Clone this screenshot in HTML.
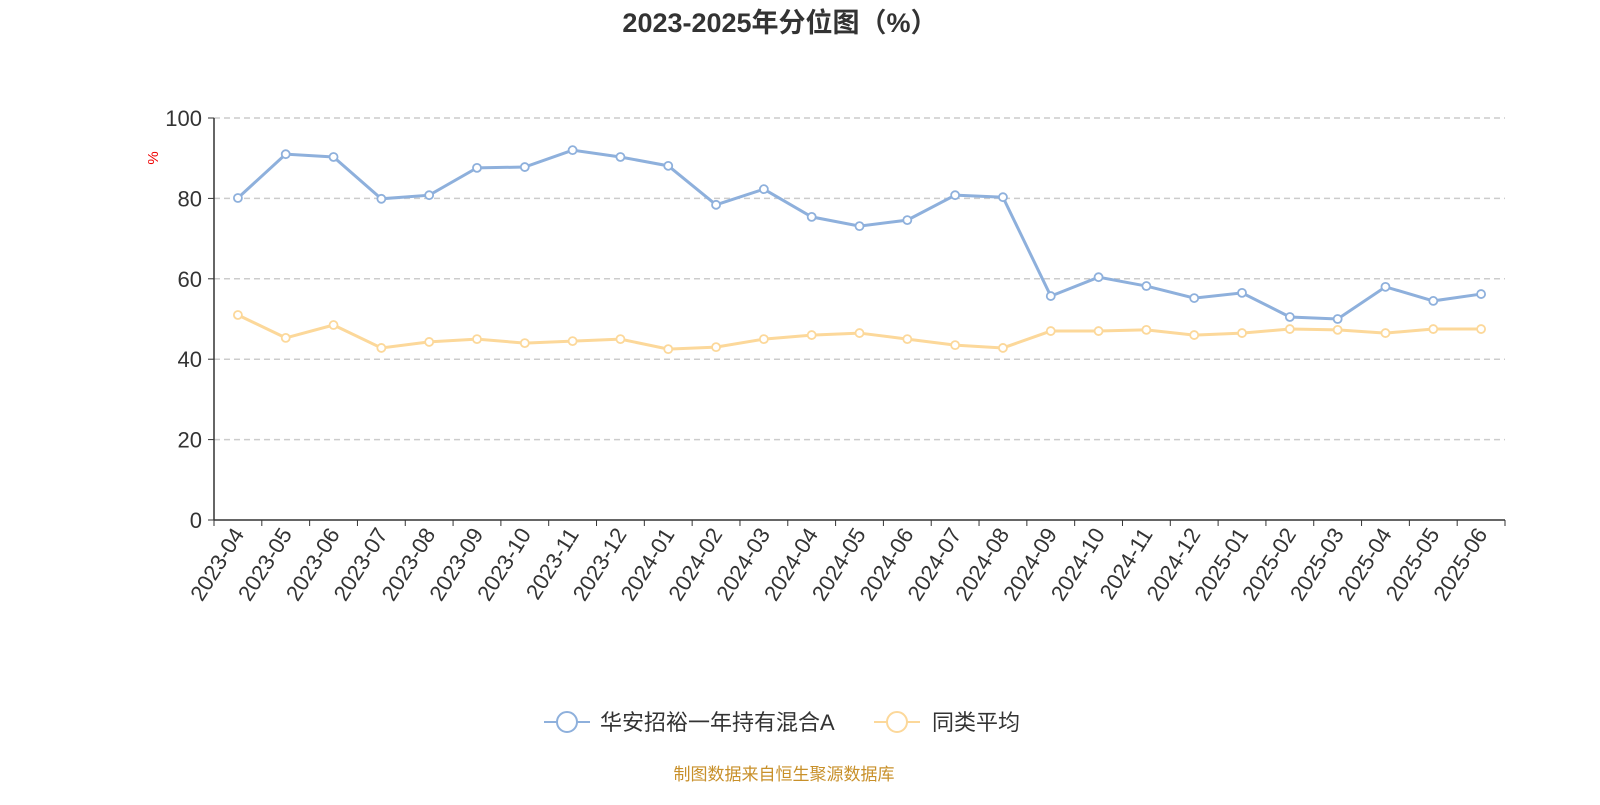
<!DOCTYPE html>
<html><head><meta charset="utf-8"><style>
body{margin:0;background:#fff;}
svg text{font-family:"Liberation Sans","Noto Sans CJK SC",sans-serif;}
</style></head><body>
<svg id="chart" width="1600" height="800" viewBox="0 0 1600 800" xmlns="http://www.w3.org/2000/svg">
<text x="780" y="32" text-anchor="middle" font-size="27" font-weight="bold" fill="#333">2023-2025年分位图（%）</text>
<text transform="translate(158,158) rotate(-90)" text-anchor="middle" font-size="15" fill="#e00">%</text>
<g id="grid"></g><g id="axes"></g><g id="series"></g>
<g>
<g>
<line x1="544" y1="722" x2="590" y2="722" stroke="#8eb0dc" stroke-width="2"/><circle cx="567" cy="722" r="10" fill="#fff" stroke="#8eb0dc" stroke-width="2"/>
<text x="600" y="730" font-size="22" fill="#333">华安招裕一年持有混合A</text></g>
<g>
<line x1="874" y1="722" x2="920" y2="722" stroke="#fcd89a" stroke-width="2"/><circle cx="897" cy="722" r="10" fill="#fff" stroke="#fcd89a" stroke-width="2"/>
<text x="932" y="730" font-size="22" fill="#333">同类平均</text></g>
</g>
<text x="784" y="780" text-anchor="middle" font-size="17" fill="#c8902a">制图数据来自恒生聚源数据库</text>
</svg>
<script>
const categories=["2023-04","2023-05","2023-06","2023-07","2023-08","2023-09","2023-10","2023-11","2023-12","2024-01","2024-02","2024-03","2024-04","2024-05","2024-06","2024-07","2024-08","2024-09","2024-10","2024-11","2024-12","2025-01","2025-02","2025-03","2025-04","2025-05","2025-06"];
const fundValues=[80.1,91.0,90.3,79.9,80.8,87.6,87.8,92.0,90.3,88.1,78.4,82.3,75.4,73.1,74.6,80.8,80.3,55.7,60.4,58.2,55.2,56.5,50.5,50.0,58.0,54.5,56.2];
const avgValues=[51.0,45.3,48.5,42.8,44.3,45.0,44.0,44.5,45.0,42.5,43.0,45.0,46.0,46.5,45.0,43.5,42.8,47.0,47.0,47.3,46.0,46.5,47.5,47.3,46.5,47.5,47.5];
const yTicks=[0,20,40,60,80,100];
const NS="http://www.w3.org/2000/svg";
const x0=214,x1=1505,yTop=118,yBot=520;
const step=(x1-x0)/categories.length;
const xs=i=>x0+step*(i+0.5);
const ys=v=>yBot-(v/100)*(yBot-yTop);
function mk(t,a,p){const e=document.createElementNS(NS,t);for(const k in a)e.setAttribute(k,a[k]);p.appendChild(e);return e;}
const grid=document.getElementById('grid'),axes=document.getElementById('axes'),ser=document.getElementById('series');
yTicks.forEach(v=>{
 if(v>0){const l=mk('line',{x1:x0,x2:x1,y1:ys(v),y2:ys(v),stroke:'#ccc','stroke-dasharray':'6,4','stroke-width':1.5},grid);
 
 }
 mk('line',{x1:x0-6,x2:x0,y1:ys(v),y2:ys(v),stroke:'#333'},axes);
 const t=mk('text',{x:x0-12,y:ys(v)+8,'text-anchor':'end','font-size':22,fill:'#333'},axes);t.textContent=v;
 
 
});
const ya=mk('line',{x1:x0,x2:x0,y1:yTop,y2:yBot,stroke:'#333','stroke-width':1.5},axes);


const xa=mk('line',{x1:x0,x2:x1,y1:yBot,y2:yBot,stroke:'#333','stroke-width':1.5},axes);


for(let i=0;i<=categories.length;i++)mk('line',{x1:x0+step*i,x2:x0+step*i,y1:yBot,y2:yBot+6,stroke:'#333'},axes);
categories.forEach((c,i)=>{
 const t=mk('text',{transform:`translate(${xs(i)+7},${yBot+14}) rotate(-58)`,'text-anchor':'end','font-size':22,fill:'#333'},axes);t.textContent=c;
 
 
});
function line(vals,color,name){
 const g=mk('g',{},ser);
 
 
 mk('polyline',{points:vals.map((v,i)=>xs(i)+','+ys(v)).join(' '),fill:'none',stroke:color,'stroke-width':3},g);
 vals.forEach((v,i)=>{const c=mk('circle',{cx:xs(i),cy:ys(v),r:4,fill:'#fff',stroke:color,'stroke-width':1.8},g);
 
 });
}
line(avgValues,'#fcd89a','average-series');
line(fundValues,'#8eb0dc','fund-series');
</script>
</body></html>
